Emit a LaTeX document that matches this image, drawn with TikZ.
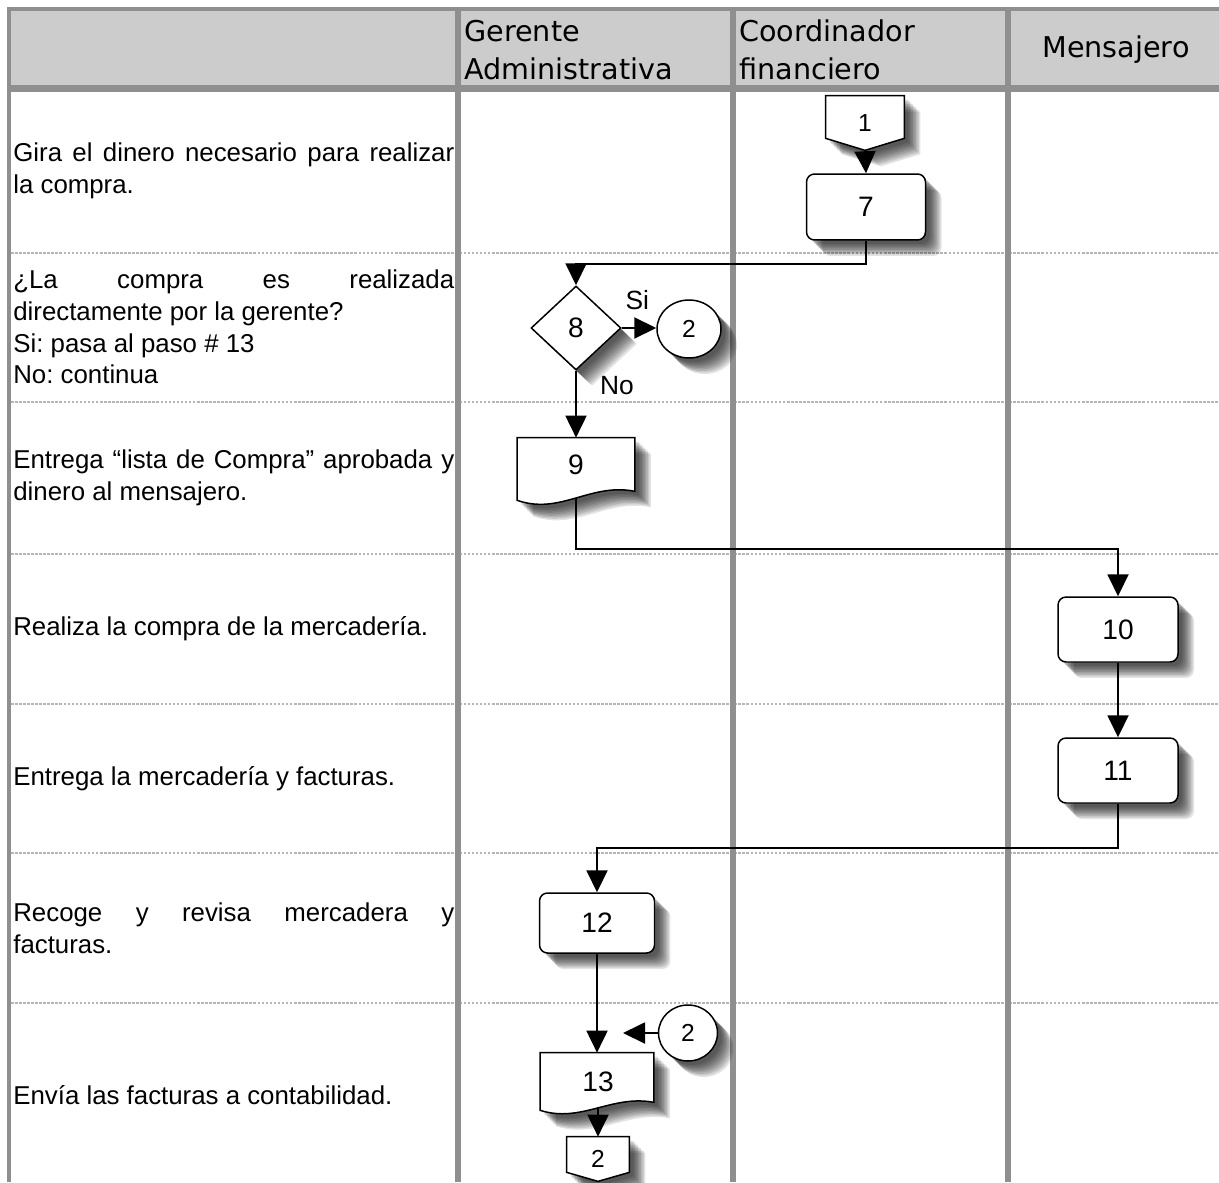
\documentclass[tikz,border=0pt]{standalone}
\usepackage{fontspec}
\setmainfont{Liberation Sans}
\newfontfamily\headfont{DejaVu Sans}
\usetikzlibrary{shapes.geometric}
\usetikzlibrary{arrows.meta}
\usetikzlibrary{calc}
\definecolor{lanegray}{RGB}{143,143,143}
\definecolor{headgray}{RGB}{204,204,204}
\definecolor{rowgray}{RGB}{182,182,182}
\pgfdeclarelayer{lanes}
\pgfdeclarelayer{outlines}
\pgfsetlayers{lanes,outlines,main}
\frenchspacing
\tikzset{
	shade_step/.style = {
		preaction={fill=black, opacity=0.11, transform canvas={xshift=#1, yshift=-#1}}
	},
	shade_box/.style = {
		shade_step=0.32cm, shade_step=0.29cm, shade_step=0.26cm,
		shade_step=0.23cm, shade_step=0.20cm, shade_step=0.17cm,
		shade_step=0.14cm, shade_step=0.11cm, shade_step=0.08cm
	},
	node_base/.style = {
		align=center,
		inner sep=0pt,
		text centered,
		font=\fontsize{16}{18}\selectfont
	},
	node_proc/.style = {
		node_base,
		rectangle,
		rounded corners=0.16cm,
		draw=black,
		line width=0.85pt,
		fill=white,
		shade_box
	},
	node_dec/.style = {
		node_base,
		diamond,
		draw=black,
		line width=0.85pt,
		fill=white,
		minimum width=1.8cm,
		minimum height=1.68cm,
		shade_box
	},
	node_con/.style = {
		node_base,
		ellipse,
		draw=black,
		line width=0.85pt,
		fill=white,
		font=\fontsize{14}{16}\selectfont,
		shade_box
	},
	node_doc/.style = {
		node_base,
		rectangle
	},
	node_off/.style = {
		node_base,
		rectangle,
		font=\fontsize{14}{16}\selectfont
	},
	node_lbl/.style = {
		inner sep=0pt,
		font=\fontsize{15}{17}\selectfont
	},
	shape_line/.style = {
		draw=black,
		line width=0.85pt,
		fill=white,
		shade_box
	},
	flow/.style = {
		draw=black,
		line width=1.1pt,
		-{Triangle[length=0.44cm,width=0.42cm,fill=black]}
	},
	lane/.style = {
		draw=lanegray,
		line width=0.12cm
	},
	row_sep/.style = {
		draw=rowgray,
		line width=0.04cm,
		dash pattern=on 1.5pt off 0.8pt
	},
	step_text/.style = {
		anchor=west,
		align=justify,
		text width=8.82cm,
		inner sep=0pt,
		font=\fontsize{14.7}{18}\selectfont
	},
	lane_head/.style = {
		inner sep=0pt,
		align=left,
		font=\headfont\fontsize{16.3}{21.6}\selectfont
	}
}

\begin{document}
\begin{tikzpicture}[x=0.02cm, y=-0.02cm]
\useasboundingbox (0,0) rectangle (1219,1182);

% swimlane grid
\begin{pgfonlayer}{lanes}
\fill[headgray] (9,9) rectangle (1219,88);
\foreach \y in {253,402,554,704,853,1003}
	\draw[row_sep] (11,\y) -- (1219,\y);
\draw[lanegray, line width=0.08cm] (7,9) -- (1219,9);
\draw[lanegray, line width=0.13cm] (9,88.5) -- (1219,88.5);
\draw[lanegray, line width=0.08cm] (9,7) -- (9,1182);
\foreach \x in {458,733,1008}
	\draw[lane] (\x,9) -- (\x,1182);
\end{pgfonlayer}

% lane titles
\node[lane_head, anchor=west] (h_ger) at (464,50) {Gerente\\Administrativa};
\node[lane_head, anchor=west] (h_coo) at (739,50) {Coordinador\\financiero};
\node[lane_head] (h_men) at (1116,50) {Mensajero};

% step descriptions
\node[step_text] (t_gira) at (13,171) {Gira el dinero necesario para realizar\linebreak la compra.};
\node[step_text] (t_preg) at (13,327) {¿La compra es realizada\linebreak directamente por la gerente?\\Si: pasa al paso \# 13\\No: continua};
\node[step_text] (t_entr) at (13,478) {Entrega “lista de Compra” aprobada y\linebreak dinero al mensajero.};
\node[step_text] (t_real) at (13,629) {Realiza la compra de la mercadería.};
\node[step_text] (t_merc) at (13,779) {Entrega la mercadería y facturas.};
\node[step_text] (t_reco) at (13,928) {Recoge y revisa mercadera y\linebreak facturas.};
\node[step_text] (t_envi) at (13,1095) {Envía las facturas a contabilidad.};

% flow symbols
\node[node_off, minimum width=1.56cm, minimum height=1.08cm] (off1) at (865,123) {1};
\node[node_proc, minimum width=2.38cm, minimum height=1.32cm] (b7) at (866,207) {7};
\node[node_dec] (d8) at (576,328) {8};
\node[node_con, minimum width=1.28cm, minimum height=1.16cm] (c2a) at (689,329) {2};
\node[node_doc, minimum width=2.34cm, minimum height=1.06cm] (d9) at (576,464.5) {9};
\node[node_proc, minimum width=2.4cm, minimum height=1.3cm] (b10) at (1118,629.5) {10};
\node[node_proc, minimum width=2.4cm, minimum height=1.3cm] (b11) at (1118,770.5) {11};
\node[node_proc, minimum width=2.3cm, minimum height=1.2cm] (b12) at (597,923) {12};
\node[node_con, minimum width=1.18cm, minimum height=1.12cm] (c2b) at (688,1033) {2};
\node[node_doc, minimum width=2.26cm, minimum height=0.98cm] (d13) at (597,1077.5) {};
\node[node_lbl, font=\fontsize{16}{18}\selectfont] (d13_txt) at (598,1082) {13};
\node[node_off, minimum width=1.24cm, minimum height=0.88cm] (off2) at (598,1159) {2};

\begin{pgfonlayer}{outlines}
\draw[shape_line] (off1.north west) -- (off1.north east) -- ($(off1.south east)+(0,-12)$) -- (off1.south) -- ($(off1.south west)+(0,-12)$) -- cycle;
\draw[shape_line] (d9.north west) -- (d9.north east) -- (d9.south east) .. controls +(-44,-9) and +(43,15) .. ($(d9.south west)+(0,9)$) -- cycle;
\draw[shape_line] (d13.north west) -- (d13.north east) -- (d13.south east) .. controls +(-42,-8) and +(41,13) .. ($(d13.south west)+(0,8)$) -- cycle;
\draw[shape_line] (off2.north west) -- (off2.north east) -- ($(off2.south east)+(0,-9)$) -- (off2.south) -- ($(off2.south west)+(0,-9)$) -- cycle;
\end{pgfonlayer}

\coordinate (d9b) at ($(d9.south)+(0,7)$);
\coordinate (d13b) at ($(d13.south)+(0,6)$);
\coordinate (c2b_tip) at (623,1033);

% connectors
\draw[flow] (off1.south) -- (b7.north);
\draw[flow] (b7.south) -- ++(0,23) -| (d8.north);
\draw[flow] (d8.east) -- (d8.east -| c2a.west) node[node_lbl, pos=0.45, yshift=0.56cm] {Si};
\draw[flow] (d8.south) -- (d9.north) node[node_lbl, pos=0.22, xshift=0.82cm] {No};
\draw[flow] (d9b) -- ++(0,51) -| (b10.north);
\draw[flow] (b10.south) -- (b11.north);
\draw[flow] (b11.south) -- ++(0,44) -| (b12.north);
\draw[flow] (b12.south) -- (d13.north);
\draw[flow] (c2b.west) -- (c2b_tip);
\draw[flow] (d13b) -- (d13b -| off2.north) -- (off2.north);
\end{tikzpicture}
\end{document}
